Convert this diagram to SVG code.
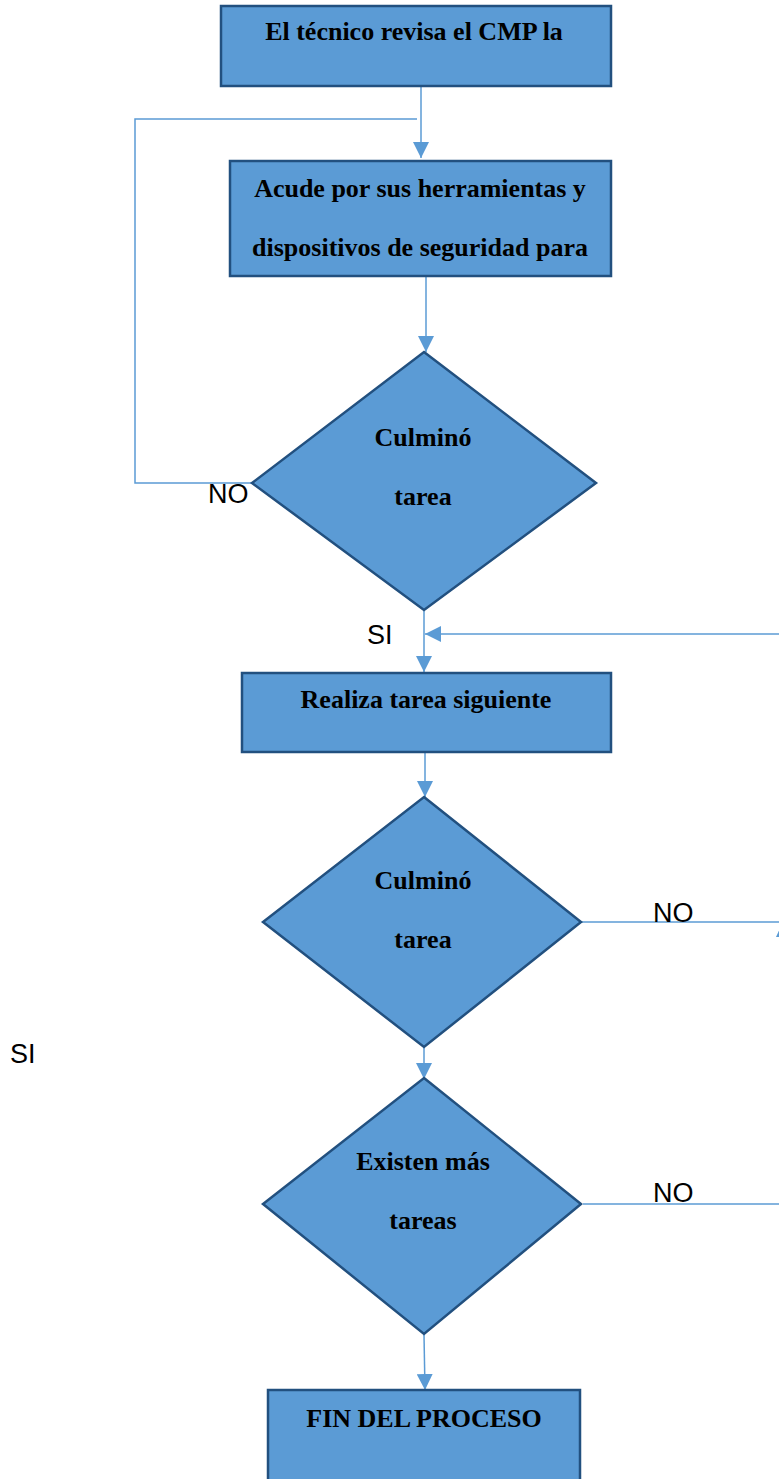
<svg xmlns="http://www.w3.org/2000/svg" width="779" height="1479" viewBox="0 0 779 1479">
<defs>
<marker id="arr" viewBox="0 0 10 10" refX="10" refY="5" markerWidth="16" markerHeight="16" markerUnits="userSpaceOnUse" orient="auto">
<path d="M0,0 L10,5 L0,10 Z" fill="#5B9BD5"/>
</marker>
<style>
.shape{fill:#5B9BD5;stroke:#22507F;stroke-width:2.5}
.t{font-family:"Liberation Serif","Times New Roman",serif;font-weight:bold;font-size:26px;fill:#000;text-anchor:middle}
.lbl{font-family:"Liberation Sans",Arial,sans-serif;font-size:27px;fill:#000}
.c{fill:none;stroke:#5B9BD5;stroke-width:1.5}
.ca{fill:none;stroke:#5B9BD5;stroke-width:1.5;marker-end:url(#arr)}
</style>
</defs>
<rect width="779" height="1479" fill="#fff"/>
<g id="connectors">
<line class="ca" x1="421" y1="86" x2="421" y2="158"/>
<polyline class="c" points="417,119 135,119 135,483 252,483"/>
<line class="ca" x1="426" y1="277" x2="426" y2="352"/>
<line class="ca" x1="424" y1="611" x2="424" y2="672"/>
<line class="ca" x1="779" y1="634" x2="425" y2="634"/>
<line class="ca" x1="425" y1="753" x2="425" y2="797"/>
<line class="c" x1="582" y1="922" x2="779" y2="922"/>
<polygon points="782,924 776,937 788,937" fill="#5B9BD5"/>
<line class="ca" x1="424" y1="1048" x2="424" y2="1079"/>
<line class="c" x1="583" y1="1204" x2="779" y2="1204"/>
<line class="ca" x1="424" y1="1335" x2="425" y2="1390"/>
</g>
<g id="n1">
<rect class="shape" x="221" y="6" width="390" height="80"/>
<text class="t" x="414" y="40">El técnico revisa el CMP la</text>
</g>
<g id="n2">
<rect class="shape" x="230" y="161" width="381" height="115"/>
<text class="t" x="420" y="197">Acude por sus herramientas y</text>
<text class="t" x="420" y="256">dispositivos de seguridad para</text>
</g>
<g id="d1">
<polygon class="shape" points="424,352 596,483 424,610 252,483"/>
<text class="t" x="423" y="446">Culminó</text>
<text class="t" x="423" y="505">tarea</text>
</g>
<g id="n3">
<rect class="shape" x="242" y="673" width="369" height="79"/>
<text class="t" x="426" y="708">Realiza tarea siguiente</text>
</g>
<g id="d2">
<polygon class="shape" points="424,797 581,922 424,1047 263,922"/>
<text class="t" x="423" y="889">Culminó</text>
<text class="t" x="423" y="948">tarea</text>
</g>
<g id="d3">
<polygon class="shape" points="424,1078 581,1204 424,1334 263,1204"/>
<text class="t" x="423" y="1170">Existen más</text>
<text class="t" x="423" y="1229">tareas</text>
</g>
<g id="n4">
<rect class="shape" x="268" y="1390" width="312" height="100"/>
<text class="t" x="424" y="1427">FIN DEL PROCESO</text>
</g>
<g id="labels">
<text class="lbl" x="208" y="503">NO</text>
<text class="lbl" x="367" y="644">SI</text>
<text class="lbl" x="653" y="922">NO</text>
<text class="lbl" x="10" y="1063">SI</text>
<text class="lbl" x="653" y="1202">NO</text>
</g>
</svg>
